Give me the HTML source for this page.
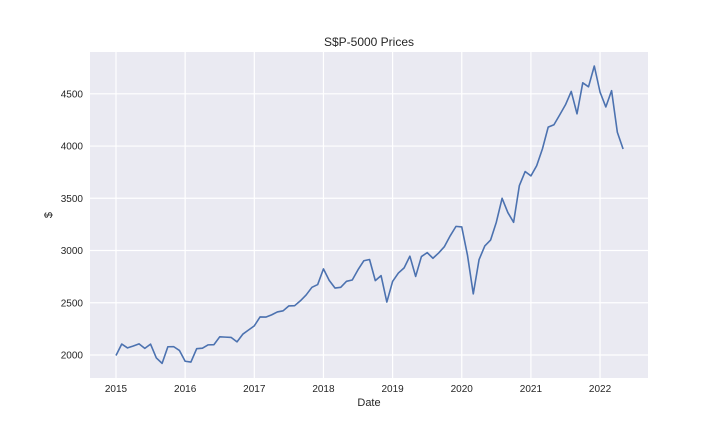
<!DOCTYPE html>
<html><head><meta charset="utf-8"><style>
body{margin:0;background:#fff;font-family:"Liberation Sans",sans-serif}
svg text{font-family:"Liberation Sans",sans-serif;fill:#262626}
</style></head><body>
<svg width="720" height="432">
<rect x="90" y="52" width="558" height="326" fill="#EAEAF2"/>
<g id="grid"></g><g id="ticks"></g>
<path id="line" fill="none" stroke="#4C72B0" stroke-width="1.6" stroke-linejoin="round"/>
<text x="369" y="46" text-anchor="middle" font-size="12">S$P-5000 Prices</text>
<text x="369" y="406" text-anchor="middle" font-size="11">Date</text>
<text x="52" y="215" text-anchor="middle" font-size="11" transform="rotate(-90 52 215)">$</text>
</svg>
<script>
const startYear = 2015;
const prices = [1995,2105,2068,2086,2107,2063,2104,1972,1920,2079,2080,2044,
1940,1932,2060,2065,2097,2099,2174,2171,2168,2126,2199,2239,
2279,2364,2363,2384,2412,2423,2470,2472,2519,2575,2648,2674,
2824,2714,2641,2648,2705,2718,2816,2902,2914,2712,2760,2507,
2704,2784,2834,2946,2752,2942,2980,2926,2977,3038,3141,3231,
3226,2954,2585,2912,3044,3100,3271,3500,3363,3270,3622,3756,
3714,3811,3973,4181,4204,4298,4395,4523,4308,4605,4567,4766,
4516,4374,4530,4132,3972];
const xTicks = [2015,2016,2017,2018,2019,2020,2021,2022];
const yTicks = [2000,2500,3000,3500,4000,4500];
const NS="http://www.w3.org/2000/svg";
const xs = t => 116 + (t-2015)*69.15;
const ys = v => 355 - (v-2000)*0.10448;
const grid=document.getElementById('grid'), ticks=document.getElementById('ticks');
xTicks.forEach(t=>{
  const l=document.createElementNS(NS,'line');
  l.setAttribute('x1',xs(t));l.setAttribute('x2',xs(t));l.setAttribute('y1',52);l.setAttribute('y2',378);
  l.setAttribute('stroke','#fff');l.setAttribute('stroke-width','1.2');
  
  
  grid.appendChild(l);
  const tx=document.createElementNS(NS,'text');
  tx.setAttribute('x',xs(t));tx.setAttribute('y',392);tx.setAttribute('text-anchor','middle');tx.setAttribute('font-size','10');
  tx.textContent=t;
  
  
  ticks.appendChild(tx);
});
yTicks.forEach(t=>{
  const l=document.createElementNS(NS,'line');
  l.setAttribute('x1',90);l.setAttribute('x2',648);l.setAttribute('y1',ys(t));l.setAttribute('y2',ys(t));
  l.setAttribute('stroke','#fff');l.setAttribute('stroke-width','1.2');
  
  
  grid.appendChild(l);
  const tx=document.createElementNS(NS,'text');
  tx.setAttribute('x',83);tx.setAttribute('y',ys(t)+3.5);tx.setAttribute('text-anchor','end');tx.setAttribute('font-size','10');
  tx.textContent=t;
  
  
  ticks.appendChild(tx);
});
document.getElementById('line').setAttribute('d',prices.map((v,i)=>(i?'L':'M')+xs(startYear+i/12).toFixed(2)+','+ys(v).toFixed(2)).join(''));
</script>
</body></html>
